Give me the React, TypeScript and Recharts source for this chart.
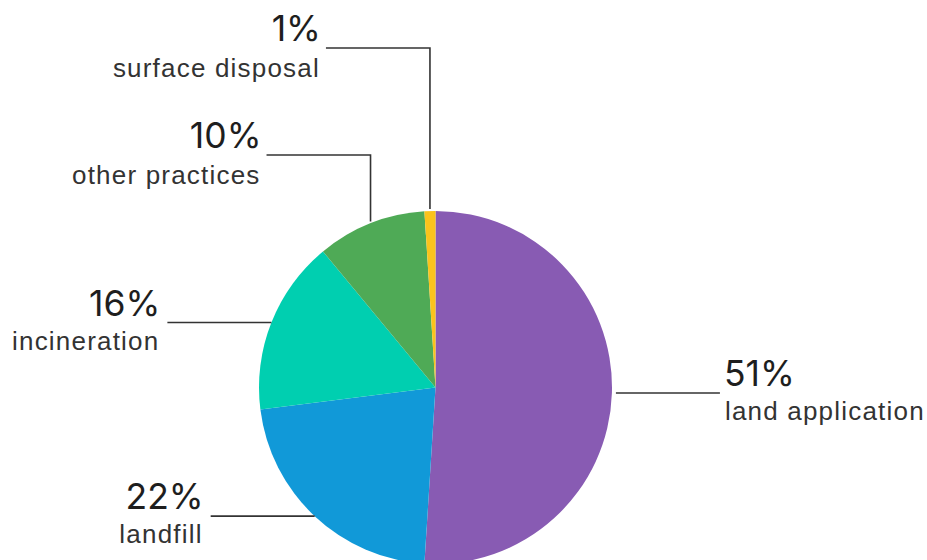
import React from 'react';
import { PieChart, Pie, Cell } from 'recharts';

const categories = ['land application', 'landfill', 'incineration', 'other practices', 'surface disposal'];
const shares = [51, 22, 16, 10, 1];
const colors = ['#885BB3', '#1199D8', '#00CFB0', '#4FAA56', '#FAC31C'];

const data = categories.map((name, i) => ({ name, value: shares[i] }));

// layout constants for the callout lines (not data)
const ELBOW_Y: Record<string, number> = { 'surface disposal': 48, 'other practices': 155 };
const SEG = 104;
const FONT = '"Liberation Sans", Arial, Helvetica, sans-serif';
const PCT_FONT = 'Inter, "Liberation Sans", Arial, sans-serif';
const RAD = Math.PI / 180;

const renderLabel = (props: any) => {
  const { cx, cy, midAngle, outerRadius, name, value } = props;
  const sx0 = cx + outerRadius * Math.cos(-midAngle * RAD);
  const sy = cy + outerRadius * Math.sin(-midAngle * RAD);
  const pct = `${value}%`;
  const pctStyle = { fontFamily: PCT_FONT, fontSize: 35.5, fill: '#1e1e1e', letterSpacing: 0 } as any;
  const lblStyle = { fontFamily: FONT, fontSize: 26, fill: '#333', letterSpacing: 1.2 } as any;
  if (ELBOW_Y[name] !== undefined) {
    const ey = ELBOW_Y[name];
    const sx = sx0;
    const ex = sx - SEG;
    return (
      <g>
        <polyline points={`${sx},${sy - 2} ${sx},${ey} ${ex},${ey}`} fill="none" stroke="#333" strokeWidth={1.6} />
        <text x={ex - 5} y={ey - 7} textAnchor="end" style={pctStyle}>{pct}</text>
        <text x={ex - 6} y={ey + 29} textAnchor="end" style={lblStyle}>{name}</text>
      </g>
    );
  }
  const right = Math.cos(-midAngle * RAD) >= 0;
  const sx = right ? sx0 + 4 : sx0;
  const ex = right ? sx + SEG : sx - SEG;
  const tx = right ? ex + 4 : ex - 8;
  const anchor = right ? 'start' : 'end';
  return (
    <g>
      <line x1={sx} y1={sy} x2={ex} y2={sy} stroke="#333" strokeWidth={1.6} />
      <text x={right ? tx : tx + 1} y={sy - 7} textAnchor={anchor} style={pctStyle}>{pct}</text>
      <text x={tx + (right ? 1 : 0)} y={sy + 27} textAnchor={anchor} style={lblStyle}>{name}</text>
    </g>
  );
};

export default function App() {
  return (
    <div style={{ position: 'absolute', left: 0, top: 0, width: 927, height: 560, background: '#fff' }}>
      <PieChart width={927} height={560}>
        <Pie
          data={data}
          dataKey="value"
          nameKey="name"
          cx={430.5}
          cy={382.5}
          outerRadius={176.5}
          startAngle={90}
          endAngle={-270}
          stroke="none"
          label={renderLabel}
          labelLine={false}
          isAnimationActive={false}
        >
          {data.map((d, i) => (
            <Cell key={d.name} fill={colors[i]} />
          ))}
        </Pie>
      </PieChart>
    </div>
  );
}
